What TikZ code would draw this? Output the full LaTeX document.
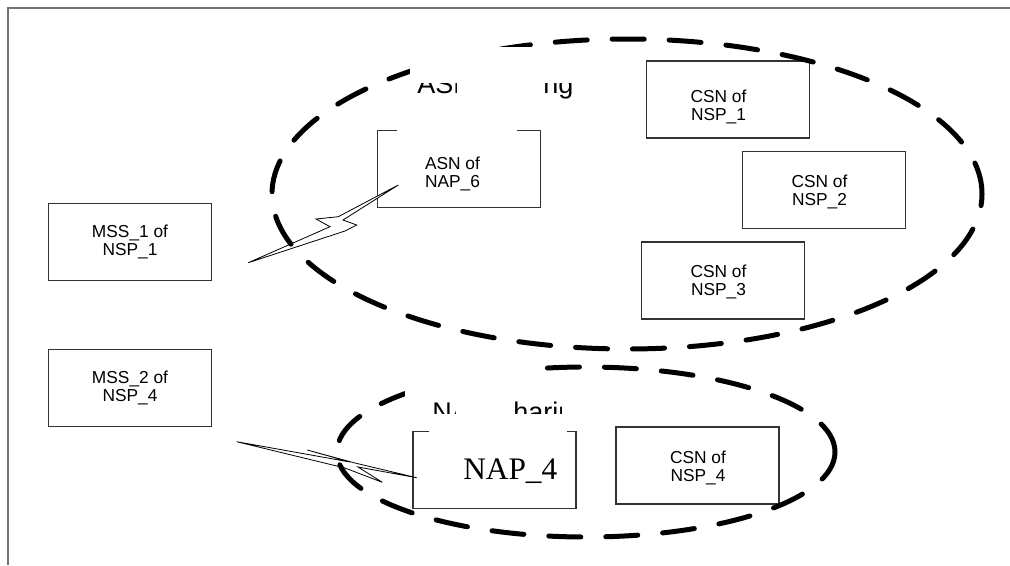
\documentclass[tikz,border=0pt]{standalone}
\usepackage{fontspec}
\setmainfont{Liberation Sans}
\newfontfamily\timesfont{Liberation Serif}
\begin{document}
\begin{tikzpicture}[x=0.75pt,y=-0.75pt,
  box/.style={draw=black!80,line width=0.8pt,minimum width=122.25pt,minimum height=57.75pt,inner sep=0pt},
  lbl/.style={align=center,font=\fontsize{13}{13}\selectfont,inner sep=0pt},
  zone/.style={draw=black,line width=3.75pt,line cap=round,dash pattern=on 24pt off 18.75pt},
  bolt/.style={draw=black,line width=0.6pt,fill=white,line join=miter},
  mask/.style={fill=white,draw=none},
  frame/.style={draw=black!55,line width=1.1pt},
  head/.style={font=\fontsize{20.25}{20.25}\selectfont,inner sep=0pt,anchor=base west}]
\useasboundingbox (0,0) rectangle (1010,565);
\draw[frame] (8,565) -- (8,8) -- (1010,8);

% boxes
\node[box] (mss1) at (130,242) {};
\node[box] (mss2) at (130,388) {};
\node[box] (asn6) at (459,169) {};
\node[box] (csn1) at (728,99.5) {};
\node[box] (csn2) at (824,190) {};
\node[box] (csn3) at (723,280.5) {};
\node[box] (nap4) at (494.5,470) {};
\node[box] (csn4) at (697.5,465.5) {};

% lightning bolts
\coordinate (b1s) at (248.3,262.7);
\coordinate (b1e) at (398.3,185);
\draw[bolt] (b1s) -- (330,226.7) -- (316,219) -- (338.3,216.7) -- (b1e)
  -- (343,220) -- (356.7,225) -- (345,231) -- cycle;
\coordinate (b2s) at (236.7,441.7);
\coordinate (b2e) at (416.7,477.7);
\draw[bolt] (b2s) -- (350,462) -- (307.3,450) -- (355,463) -- (b2e)
  -- (358,467) -- (382.3,482.3) -- (345,468) -- cycle;

% dashed zones
\draw[zone] (627,194) ellipse [x radius=266.25pt, y radius=116.25pt];
\draw[zone] (586,452) ellipse [x radius=186.75pt, y radius=63.75pt];

% white masks of the original drawing
\fill[mask] (410,47) rectangle (541,82);
\fill[mask] (397,100) rectangle (517,150);
\fill[mask] (405,355) rectangle (541,400);
\fill[mask] (429,420) rectangle (567,440);

% partly hidden headings
\begin{scope}
\clip (410,83) rectangle (456,101) (544,83) rectangle (580,101);
\node[head] (hd1) at (417,93) {ASN Sharing};
\end{scope}
\begin{scope}
\clip (430,401) rectangle (455,413) (515,401) rectangle (561,413);
\node[head] (hd2) at (432,421) {NAP Sharing};
\end{scope}

% labels
\node[lbl] (mss1t) at (130,242) {MSS\_1 of\\NSP\_1};
\node[lbl] (mss2t) at (130,388) {MSS\_2 of\\NSP\_4};
\node[lbl] (asn6t) at (452.5,174) {ASN of\\NAP\_6};
\node[lbl] (csn1t) at (718.5,107) {CSN of\\NSP\_1};
\node[lbl] (csn2t) at (819.5,192) {CSN of\\NSP\_2};
\node[lbl] (csn3t) at (718.5,282) {CSN of\\NSP\_3};
\node[lbl] (csn4t) at (698,468) {CSN of\\NSP\_4};
\node[anchor=base west,inner sep=0pt,font=\timesfont\fontsize{23.5}{23.5}\selectfont] (nap4t) at (463,479) {NAP\_4};
\end{tikzpicture}
\end{document}
